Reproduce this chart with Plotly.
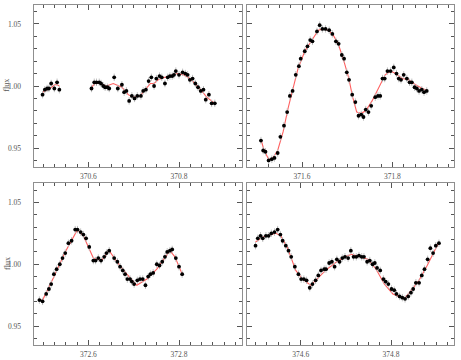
import plotly.graph_objects as go

# ---------------- data ----------------
p1_x = [370.499, 370.504, 370.509, 370.513, 370.518, 370.525, 370.531, 370.536,
        370.607, 370.613, 370.618, 370.624, 370.628, 370.633, 370.637, 370.642, 370.646,
        370.657, 370.665, 370.674, 370.679, 370.684, 370.690, 370.696, 370.702, 370.708,
        370.716, 370.721, 370.727, 370.733, 370.739, 370.745, 370.750, 370.757, 370.762,
        370.769, 370.775, 370.780, 370.785, 370.789, 370.793, 370.800, 370.808, 370.814,
        370.819, 370.824, 370.830, 370.836, 370.842, 370.848, 370.854, 370.859, 370.866,
        370.872, 370.879]
p1_y = [0.993, 0.997, 0.998, 0.998, 1.002, 0.998, 1.003, 0.997,
        0.998, 1.003, 1.003, 1.003, 1.002, 1.000, 0.999, 0.999, 0.998,
        1.007, 0.998, 1.001, 0.995, 0.996, 0.988, 0.992, 0.990, 0.992,
        0.992, 0.996, 0.997, 1.004, 1.007, 1.000, 1.006, 1.008, 1.007,
        1.002, 1.007, 1.008, 1.008, 1.009, 1.012, 1.009, 1.011, 1.010,
        1.009, 1.005, 1.006, 1.002, 0.999, 0.996, 0.997, 0.989, 0.993,
        0.986, 0.986]
m1_x = [370.499, 370.515, 370.526, 370.531, 370.536, None,
        370.607, 370.615, 370.626, 370.640, 370.655, 370.662, 370.674, 370.688, 370.699,
        370.714, 370.729, 370.737, 370.745, 370.754, 370.769, 370.784, 370.795, 370.810,
        370.824, 370.846, 370.861, 370.879]
m1_y = [0.995, 0.998, 1.001, 1.001, 1.000, None,
        0.999, 1.002, 1.002, 1.000, 1.002, 1.001, 0.999, 0.993, 0.991,
        0.992, 0.999, 1.002, 1.002, 1.005, 1.007, 1.009, 1.010, 1.009,
        1.006, 0.998, 0.991, 0.986]

p2_x = [371.509, 371.514, 371.519, 371.526, 371.533, 371.539, 371.546, 371.552, 371.560,
        371.567, 371.573, 371.579, 371.586, 371.593, 371.597, 371.606, 371.612, 371.618,
        371.623, 371.633, 371.639, 371.645, 371.652, 371.660, 371.667, 371.675, 371.681,
        371.688, 371.693, 371.699, 371.704, 371.711, 371.718, 371.725, 371.731, 371.736,
        371.741, 371.747, 371.753, 371.762, 371.768, 371.773, 371.778, 371.783, 371.789,
        371.796, 371.803, 371.809, 371.814, 371.819, 371.825, 371.832, 371.838, 371.843,
        371.849, 371.854, 371.859, 371.865, 371.870, 371.876]
p2_y = [0.956, 0.948, 0.947, 0.940, 0.941, 0.942, 0.946, 0.959, 0.968,
        0.979, 0.992, 0.996, 1.009, 1.016, 1.022, 1.028, 1.032, 1.037,
        1.036, 1.044, 1.049, 1.046, 1.046, 1.045, 1.042, 1.036, 1.034,
        1.025, 1.022, 1.011, 1.005, 0.993, 0.987, 0.976, 0.977, 0.975,
        0.981, 0.979, 0.984, 0.991, 0.992, 0.992, 1.006, 1.006, 1.012,
        1.012, 1.015, 1.010, 1.006, 1.005, 1.009, 1.006, 1.003, 1.003,
        0.999, 0.998, 0.996, 0.997, 0.995, 0.996]
m2_x = [371.509, 371.516, 371.526, 371.535, 371.546, 371.558, 371.569, 371.580, 371.591,
        371.606, 371.621, 371.636, 371.647, 371.658, 371.669, 371.680, 371.691, 371.703,
        371.712, 371.721, 371.731, 371.741, 371.755, 371.770, 371.784, 371.796, 371.807,
        371.822, 371.836, 371.851, 371.865, 371.877]
m2_y = [0.957, 0.948, 0.941, 0.942, 0.948, 0.963, 0.982, 0.999, 1.014,
        1.028, 1.037, 1.045, 1.046, 1.045, 1.041, 1.034, 1.022, 1.007,
        0.991, 0.979, 0.978, 0.980, 0.988, 0.999, 1.009, 1.012, 1.010,
        1.006, 1.005, 1.001, 0.998, 0.996]

p3_x = [372.492, 372.499, 372.507, 372.513, 372.518, 372.524, 372.530, 372.537, 372.543,
        372.549, 372.556, 372.563, 372.571, 372.576, 372.583, 372.589, 372.595, 372.602,
        372.611, 372.616, 372.622, 372.628, 372.635, 372.640, 372.646, 372.657, 372.664,
        372.670, 372.676, 372.681, 372.686, 372.692, 372.696, 372.701, 372.708, 372.714,
        372.720, 372.726, 372.732, 372.737, 372.743, 372.751, 372.757, 372.763, 372.769,
        372.774, 372.780, 372.785, 372.793, 372.800, 372.807]
p3_y = [0.971, 0.970, 0.976, 0.980, 0.984, 0.992, 0.996, 1.000, 1.005,
        1.009, 1.017, 1.019, 1.028, 1.028, 1.026, 1.024, 1.021, 1.014,
        1.003, 1.003, 1.005, 1.003, 1.006, 1.009, 1.011, 1.005, 1.002,
        0.998, 0.995, 0.992, 0.988, 0.988, 0.986, 0.984, 0.987, 0.988,
        0.988, 0.983, 0.990, 0.992, 0.993, 1.000, 0.999, 1.002, 1.006,
        1.010, 1.011, 1.012, 1.005, 0.998, 0.992]
m3_x = [372.492, 372.499, 372.523, 372.549, 372.576, 372.589, 372.611, 372.622, 372.629,
        372.646, 372.663, 372.685, 372.707, 372.729, 372.751, 372.780, 372.791, 372.807]
m3_y = [0.971, 0.971, 0.989, 1.010, 1.028, 1.023, 1.005, 1.004, 1.003,
        1.011, 1.002, 0.992, 0.983, 0.988, 0.996, 1.011, 1.006, 0.992]

p4_x = [374.500, 374.505, 374.511, 374.516, 374.523, 374.529, 374.535, 374.542, 374.549,
        374.555, 374.560, 374.567, 374.573, 374.579, 374.587, 374.595, 374.601, 374.607,
        374.613, 374.620, 374.626, 374.633, 374.639, 374.645, 374.652, 374.656, 374.663,
        374.669, 374.675, 374.680, 374.686, 374.692, 374.698, 374.705, 374.711, 374.717,
        374.723, 374.729, 374.735, 374.740, 374.747, 374.753, 374.759, 374.764, 374.769,
        374.776, 374.783, 374.788, 374.794, 374.801, 374.807, 374.812, 374.819, 374.825,
        374.831, 374.838, 374.844, 374.849, 374.855, 374.862, 374.868, 374.874, 374.881,
        374.887, 374.893, 374.899, 374.906]
p4_y = [1.015, 1.021, 1.023, 1.021, 1.023, 1.023, 1.025, 1.026, 1.028,
        1.024, 1.019, 1.015, 1.011, 1.006, 0.998, 0.992, 0.988, 0.988,
        0.987, 0.981, 0.984, 0.987, 0.991, 0.995, 0.996, 0.996, 1.001,
        1.002, 0.998, 1.004, 1.002, 1.005, 1.006, 1.005, 1.011, 1.006,
        1.006, 1.007, 1.006, 1.006, 1.002, 1.003, 1.000, 1.001, 0.997,
        0.995, 0.988, 0.986, 0.984, 0.980, 0.979, 0.976, 0.974, 0.973,
        0.972, 0.974, 0.977, 0.980, 0.985, 0.985, 0.991, 0.996, 1.004,
        1.013, 1.009, 1.015, 1.017]
m4_x = [374.500, 374.516, 374.545, 374.556, 374.571, 374.589, 374.604, 374.622, 374.636,
        374.655, 374.676, 374.698, 374.713, 374.731, 374.749, 374.767, 374.785, 374.804,
        374.829, 374.843, 374.862, 374.880, 374.906]
m4_y = [1.018, 1.022, 1.025, 1.023, 1.013, 0.995, 0.988, 0.983, 0.988,
        0.995, 1.001, 1.006, 1.008, 1.006, 1.004, 0.996, 0.984, 0.976,
        0.972, 0.978, 0.987, 0.999, 1.018]

flux_err = 0.003
x_ranges = [[370.479, 370.939], [371.477, 371.937], [372.479, 372.939], [374.480, 374.940]]
y_range = [0.9347, 1.0657]
y_label = "flux"

panels = [(p1_x, p1_y, m1_x, m1_y), (p2_x, p2_y, m2_x, m2_y),
          (p3_x, p3_y, m3_x, m3_y), (p4_x, p4_y, m4_x, m4_y)]

# ---------------- figure ----------------
W, H = 461, 360
fig = go.Figure()

xdoms = [[33.5 / W, 242 / W], [246.5 / W, 454.3 / W]]
ydoms = [[1 - 167 / H, 1 - 4.5 / H], [1 - 345 / H, 1 - 183 / H]]

font_fam = "Liberation Serif, Times New Roman, serif"
frame_col = "#8f8f8f"
tick_col = "#555555"
label_col = "#555555"

for i, (px, py, mx, my) in enumerate(panels):
    n = i + 1
    xa = "x" if n == 1 else f"x{n}"
    ya = "y" if n == 1 else f"y{n}"
    fig.add_trace(go.Scatter(x=mx, y=my, mode="lines", xaxis=xa, yaxis=ya,
                             line=dict(color="#ff5f5f", width=1.1), connectgaps=False,
                             hoverinfo="skip", showlegend=False))
    fig.add_trace(go.Scatter(x=px, y=py, mode="markers", xaxis=xa, yaxis=ya,
                             marker=dict(color="black", size=3.8),
                             error_y=dict(type="constant", value=flux_err, color="#c0c0c0",
                                          thickness=1, width=0),
                             showlegend=False))
    col = i % 2
    row = i // 2
    xkey = "xaxis" if n == 1 else f"xaxis{n}"
    ykey = "yaxis" if n == 1 else f"yaxis{n}"
    fig.layout[xkey] = dict(
        domain=xdoms[col], anchor=ya, range=x_ranges[i], automargin=False,
        showline=True, linecolor=frame_col, linewidth=1, mirror="allticks",
        ticks="inside", ticklen=5, tickcolor=tick_col, tickwidth=1,
        dtick=0.2, tick0=0, tickformat=".1f", showgrid=False, zeroline=False,
        tickfont=dict(family=font_fam, size=7.5, color=label_col),
        ticklabelstandoff=2,
        minor=dict(dtick=0.025, tick0=0, ticks="inside", ticklen=3, tickcolor=tick_col,
                   showgrid=False),
    )
    fig.layout[ykey] = dict(
        domain=ydoms[row], anchor=xa, range=y_range, automargin=False,
        showline=True, linecolor=frame_col, linewidth=1, mirror="allticks",
        ticks="inside", ticklen=5, tickcolor=tick_col, tickwidth=1,
        dtick=0.05, tick0=0, tickformat=".2f", showgrid=False, zeroline=False,
        showticklabels=(col == 0),
        tickfont=dict(family=font_fam, size=7.5, color=label_col),
        ticklabelstandoff=10,
        minor=dict(dtick=0.01, tick0=0, ticks="inside", ticklen=3, tickcolor=tick_col,
                   showgrid=False),
    )
    if col == 0:
        fig.add_annotation(text=y_label, textangle=-90, xref="paper", x=7 / W,
                           xanchor="center", yref=f"{ya} domain", y=0.5, showarrow=False,
                           font=dict(family=font_fam, size=8, color=label_col))

fig.update_layout(width=W, height=H, margin=dict(l=0, r=0, t=0, b=0, autoexpand=False),
                  paper_bgcolor="white", plot_bgcolor="white")

fig.write_html("out.html", config={"displayModeBar": False},
               post_script="document.body.style.margin='0';document.body.style.overflow='hidden';")
